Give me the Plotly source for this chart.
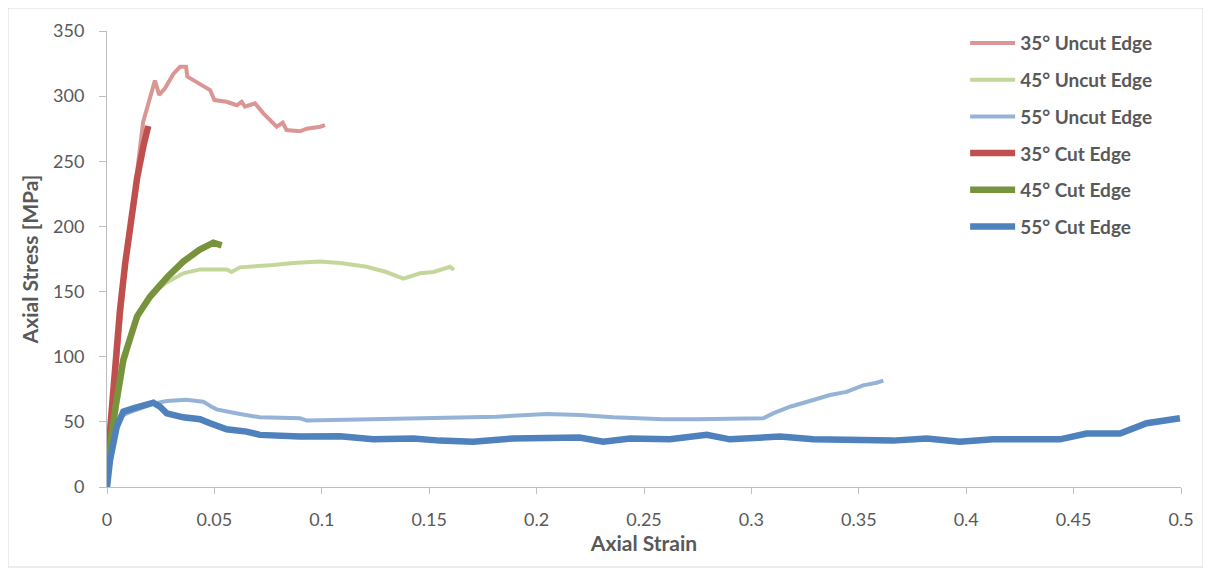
import plotly.graph_objects as go

# ---- data ----
u35_x = [0, 0.004, 0.008, 0.012, 0.0168, 0.0223, 0.0243, 0.027, 0.0309, 0.034, 0.0368, 0.0374, 0.0417,
         0.0448, 0.048, 0.050, 0.0557, 0.0604, 0.0627, 0.0642, 0.0689, 0.0728, 0.079, 0.0818, 0.0836,
         0.0898, 0.093, 0.0992, 0.1015]
u35_y = [0, 85, 160, 215, 280, 312, 301, 306, 317, 322.5, 322.5, 315, 311,
         308.5, 304.7, 297, 295.7, 293, 295.7, 292, 294.5, 286.8, 276.5, 279.6, 274,
         273, 275, 276.5, 277.8]

u45_x = [0, 0.004, 0.008, 0.012, 0.017, 0.022, 0.0278, 0.0355, 0.0433, 0.0557, 0.058, 0.0619, 0.0774,
         0.0867, 0.0992, 0.1085, 0.1209, 0.130, 0.138, 0.1457, 0.152, 0.1597, 0.1615]
u45_y = [0, 55, 95, 120, 140, 150, 157, 164, 167, 167, 165, 168.6, 170.4,
         172, 173, 172, 169, 165, 160, 164, 165, 169, 166.5]

u55_x = [0, 0.003, 0.006, 0.0092, 0.0216, 0.0278, 0.037, 0.0448, 0.0487, 0.051, 0.0619, 0.0712, 0.0898,
         0.093, 0.1053, 0.1209, 0.1364, 0.1519, 0.1674, 0.1814, 0.2047, 0.2202, 0.2357, 0.259, 0.2745,
         0.29, 0.3055, 0.3101, 0.318, 0.3288, 0.3366, 0.3443, 0.352, 0.3583, 0.3614]
u55_y = [0, 33.5, 54, 56.5, 64, 66, 67, 65.5, 61.6, 59.6, 56, 53.5, 52.7,
         51, 51.4, 52, 52.7, 53.5, 54, 54, 56, 55.3, 53.5, 52, 52,
         52.7, 52.7, 56.5, 61.6, 66.8, 70.6, 73, 78, 80, 81.6]

c35_x = [0, 0.002, 0.004, 0.006, 0.0085, 0.0115, 0.014, 0.017, 0.0192]
c35_y = [15, 60, 100, 135, 172, 210, 237, 262, 277]

c45_x = [0, 0.002, 0.004, 0.0075, 0.0115, 0.014, 0.02, 0.028, 0.0355, 0.043, 0.0495, 0.052, 0.0534]
c45_y = [15, 40, 62, 97, 120, 131, 146, 161, 173, 182, 187.5, 187, 185.5]

c55_x = [0, 0.0014, 0.0045, 0.0076, 0.0122, 0.0216, 0.0247, 0.0278, 0.0355, 0.0433, 0.048, 0.0557,
         0.065, 0.0712, 0.0898, 0.1085, 0.124, 0.1426, 0.155, 0.1704, 0.189, 0.2047, 0.22, 0.231,
         0.2435, 0.262, 0.2792, 0.29, 0.3133, 0.3288, 0.3443, 0.366, 0.3816, 0.397, 0.4126, 0.428,
         0.4437, 0.456, 0.4716, 0.484, 0.4995]
c55_y = [0, 20.7, 46, 57.8, 60.4, 64.7, 61.6, 56.5, 53.5, 52, 49, 44.3,
         42.5, 40, 38.7, 39, 36.6, 37.3, 35.6, 34.8, 37.3, 38, 38, 34.8,
         37.3, 36.6, 40, 36.6, 38.7, 36.6, 36.6, 35.6, 37.3, 34.8, 36.6, 36.6,
         36.6, 41, 41, 49, 52.7]

series = [
    ("35° Uncut Edge", u35_x, u35_y, "#DA9694", 4),
    ("45° Uncut Edge", u45_x, u45_y, "#C4D79B", 4),
    ("55° Uncut Edge", u55_x, u55_y, "#95B3D7", 4),
    ("35° Cut Edge", c35_x, c35_y, "#C0504D", 6.5),
    ("45° Cut Edge", c45_x, c45_y, "#77933C", 6.5),
    ("55° Cut Edge", c55_x, c55_y, "#4F81BD", 6.5),
]

x_ticks = [0, 0.05, 0.1, 0.15, 0.2, 0.25, 0.3, 0.35, 0.4, 0.45, 0.5]
x_tick_labels = ["0", "0.05", "0.1", "0.15", "0.2", "0.25", "0.3", "0.35", "0.4", "0.45", "0.5"]
y_ticks = [0, 50, 100, 150, 200, 250, 300, 350]

FONT = "Lato"
GREY = "#595959"

fig = go.Figure()
for i, (name, xs, ys, col, w) in enumerate(series):
    fig.add_trace(go.Scatter(x=xs, y=ys, mode="lines", name=name, legendgroup=str(i),
                             line=dict(color=col, width=w, shape="linear")))

fig.update_layout(
    width=1203, height=562,
    margin=dict(l=99, r=30, t=23, b=83),
    paper_bgcolor="white", plot_bgcolor="white",
    font=dict(family=FONT, color=GREY),
    legend=dict(x=0.799, y=1.015, xanchor="left", yanchor="top",
                font=dict(family=FONT, size=19, color=GREY, weight="bold"),
                tracegroupgap=9, itemwidth=45, bgcolor="rgba(0,0,0,0)"),
    xaxis=dict(range=[0, 0.5], tickvals=x_ticks, ticktext=x_tick_labels, automargin=False,
               showgrid=False, zeroline=False, showline=True, linecolor="#BFBFBF", linewidth=1,
               ticks="outside", ticklen=6, tickcolor="#BFBFBF", ticklabelstandoff=10,
               tickfont=dict(size=18, color=GREY),
               title=dict(text="Axial Strain", font=dict(size=21, color=GREY, weight="bold"), standoff=6)),
    yaxis=dict(range=[0, 350], tickvals=y_ticks, automargin=False,
               showgrid=False, zeroline=False, showline=True, linecolor="#BFBFBF", linewidth=1,
               ticks="outside", ticklen=7, tickcolor="#BFBFBF", ticklabelstandoff=11,
               tickfont=dict(size=18, color=GREY),
               title=dict(text="Axial Stress [MPa]", font=dict(size=21, color=GREY, weight="bold"), standoff=8)),
)

# outer chart border
fig.add_shape(type="rect", xref="paper", yref="paper",
              x0=(8 - 107) / 1074, x1=(1203 - 107) / 1074,
              y0=(487 - 567) / 456, y1=(487 - 8) / 456,
              line=dict(color="#D9D9D9", width=1), layer="below")

fig.write_html("out.html")
